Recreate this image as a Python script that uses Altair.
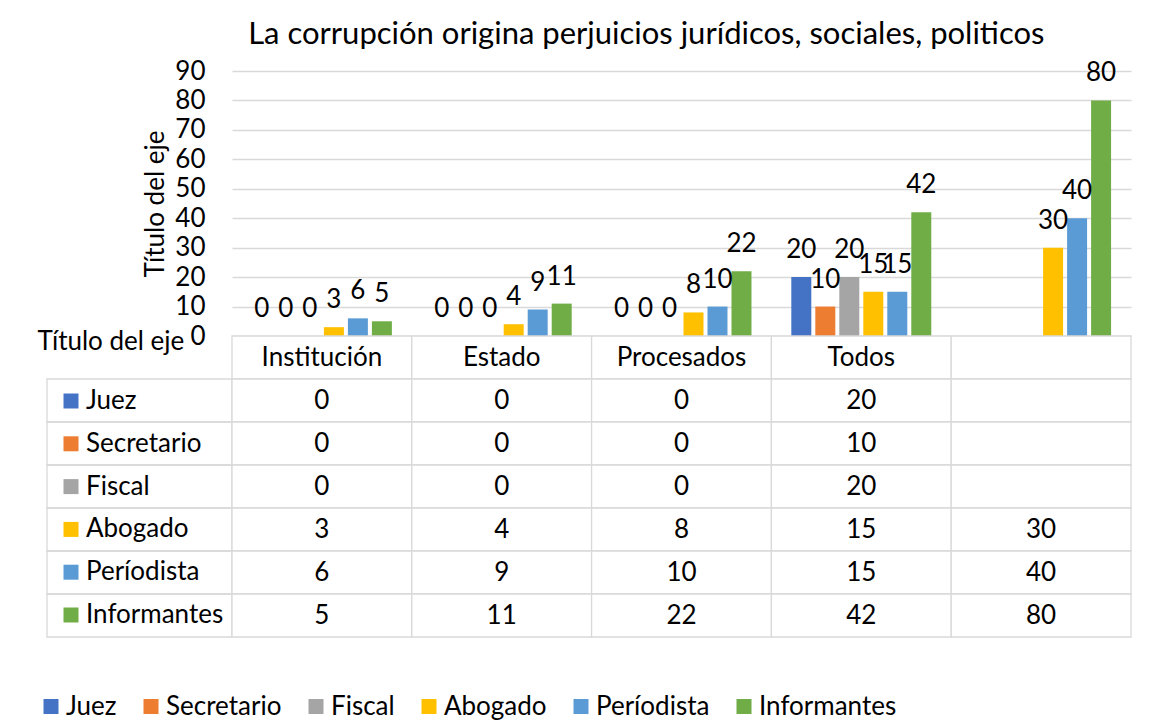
import altair as alt
import pandas as pd

# ---------------- data ----------------
categorias = ["Institución", "Estado", "Procesados", "Todos", " "]
series = ["Juez", "Secretario", "Fiscal", "Abogado", "Períodista", "Informantes"]
colores = ["#4472C4", "#ED7D31", "#A5A5A5", "#FFC000", "#5B9BD5", "#70AD47"]

juez = [0, 0, 0, 20, None]
secretario = [0, 0, 0, 10, None]
fiscal = [0, 0, 0, 20, None]
abogado = [3, 4, 8, 15, 30]
periodista = [6, 9, 10, 15, 40]
informantes = [5, 11, 22, 42, 80]

ticks_y = [0, 10, 20, 30, 40, 50, 60, 70, 80, 90]
titulo = "La corrupción origina perjuicios jurídicos, sociales, politicos"
titulo_eje = "Título del eje"
fila_cabecera = "Categoría"

valores = [juez, secretario, fiscal, abogado, periodista, informantes]

# ---------------- tables ----------------
filas = [fila_cabecera] + series
registros = []
for s, vals in zip(series, valores):
    for c, v in zip(categorias, vals):
        if v is not None:
            registros.append({"categoria": c, "serie": s, "fila": s, "valor": v})
df_barras = pd.DataFrame(registros)

celdas = [{"categoria": c, "fila": f} for f in filas for c in categorias]
df_celdas = pd.DataFrame(celdas)

textos = [{"categoria": c, "fila": fila_cabecera, "texto": c} for c in categorias]
textos += [{"categoria": r["categoria"], "fila": r["fila"], "texto": str(r["valor"])} for r in registros]
df_textos = pd.DataFrame(textos)

df_series = pd.DataFrame({"fila": series})

# ---------------- style ----------------
FONT = "Lato"
FS = 26
GRIS = "#D9D9D9"
NEGRO = "#000000"
W_LEFT = 185
W_PLOT = 899
H_PLOT = 265
H_TABLE = 301

x_scale = alt.Scale(domain=categorias, paddingInner=0, paddingOuter=0)
color_scale = alt.Scale(domain=series, range=colores)
fila_scale = alt.Scale(domain=filas, paddingInner=0, paddingOuter=0)

# ---------------- bar chart ----------------
x_bar = alt.X(
    "categoria:N", sort=categorias, scale=x_scale,
    axis=alt.Axis(labels=False, ticks=False, domain=False, grid=False,
                  title=titulo_eje, titleX=-195, titleY=13, titleAlign="left",
                  titleBaseline="alphabetic", titleFont=FONT, titleFontSize=FS,
                  titleFontWeight="normal", titleColor=NEGRO),
)
xoff = alt.XOffset("serie:N", sort=series,
                   scale=alt.Scale(domain=series, paddingInner=0.1667, paddingOuter=0.83))
y_bar = alt.Y(
    "valor:Q", scale=alt.Scale(domain=[0, 90], nice=False),
    axis=alt.Axis(values=ticks_y, grid=True, gridColor=GRIS, gridWidth=1.3,
                  domain=False, ticks=False, tickSize=0, labelPadding=27,
                  labelFont=FONT, labelFontSize=FS, labelColor=NEGRO,
                  title=titulo_eje, titleX=-69, titleY=132.5, titleBaseline="alphabetic",
                  titleFont=FONT, titleFontSize=FS, titleFontWeight="normal", titleColor=NEGRO),
)

leyenda_izq = alt.Legend(
    orient="none", legendX=-174, legendY=317, direction="vertical", title=None,
    symbolType="square", symbolSize=225, symbolStrokeWidth=0, symbolOpacity=1,
    labelFont=FONT, labelFontSize=FS, labelColor=NEGRO, labelOffset=2,
    rowPadding=16.8, padding=0, symbolOffset=0,
)

barras = alt.Chart(df_barras).mark_bar().encode(
    x=x_bar, xOffset=xoff, y=y_bar,
    color=alt.Color("serie:N", scale=color_scale, legend=leyenda_izq),
)
etiquetas = alt.Chart(df_barras).mark_text(
    baseline="alphabetic", dy=-19, font=FONT, fontSize=FS, color=NEGRO
).encode(x=x_bar, xOffset=xoff, y=y_bar, text=alt.Text("valor:Q"))

grafico = alt.layer(barras, etiquetas).properties(width=W_PLOT, height=H_PLOT)

# ---------------- data table ----------------
x_tab = alt.X("categoria:N", sort=categorias, scale=x_scale, axis=None)
y_tab = alt.Y("fila:N", sort=filas, scale=fila_scale, axis=None)

celdas_l = alt.Chart(df_celdas).mark_rect(fill="white", stroke=GRIS, strokeWidth=1.3).encode(
    x=x_tab, y=y_tab)
textos_l = alt.Chart(df_textos).mark_text(font=FONT, fontSize=FS, color=NEGRO).encode(
    x=x_tab, y=y_tab, text="texto:N")

leyenda_inf = alt.Legend(
    orient="none", legendX=-194, legendY=357.5, direction="horizontal", title=None,
    symbolType="square", symbolSize=225, symbolStrokeWidth=0, symbolOpacity=1,
    labelFont=FONT, labelFontSize=FS, labelColor=NEGRO, labelOffset=2,
    columnPadding=21, padding=0, symbolOffset=0,
)
leyenda_l = alt.Chart(df_barras).mark_square(size=225).encode(
    x=x_tab, y=y_tab,
    color=alt.Color("serie:N", scale=color_scale, legend=leyenda_inf),
    opacity=alt.value(0),
)
tabla = alt.layer(leyenda_l, celdas_l, textos_l).properties(width=W_PLOT, height=H_TABLE)

col_izq = alt.Chart(df_series).mark_rect(fillOpacity=0, stroke=GRIS, strokeWidth=1.3).encode(
    y=y_tab).properties(width=W_LEFT, height=H_TABLE)

espacio = alt.Chart(pd.DataFrame({"v": [0]})).mark_point(opacity=0).properties(
    width=W_LEFT, height=H_PLOT)

chart = alt.concat(
    espacio, grafico, col_izq, tabla, columns=2, spacing=0, bounds="flush"
).resolve_legend(color="independent").properties(
    title=alt.TitleParams(titulo, font=FONT, fontSize=31, fontWeight="normal",
                          color=NEGRO, anchor="middle", dx=62, offset=7.5),
    padding={"left": 29, "top": 10, "right": 5, "bottom": 5},
).configure(font=FONT).configure_view(strokeWidth=0)

chart.save("out.html", embed_options={"renderer": "svg", "actions": False})
